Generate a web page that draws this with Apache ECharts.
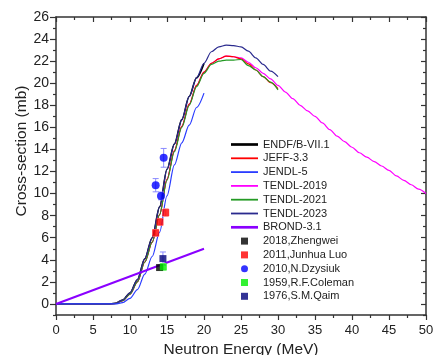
<!DOCTYPE html>
<html style="height: 100%">
<head>
<meta charset="utf-8">
</head>
<body style="height: 100%; margin: 0">
<div id="container" style="width: 434px; height: 355px"></div>
<script src="https://cdn.jsdelivr.net/npm/echarts@6/dist/echarts.min.js"></script>
<script type="text/javascript">

// energy grid (MeV) shared by the evaluated curves up to 30 MeV
var eGrid = [0, 7, 8, 9, 10, 11, 12, 13, 14, 15, 16, 17, 18, 19, 20, 21, 22, 23, 24, 25, 26, 27, 28, 29, 30];
var endfY    = [0, 0, 0.05, 0.35, 1.0, 2.2, 4.1, 6.0, 8.8, 12.2, 14.5, 16.7, 18.8, 20.5, 21.8];
var jeffY    = [0, 0, 0.04, 0.3, 0.9, 2.0, 3.8, 5.6, 8.1, 11.3, 13.9, 16.1, 18.1, 19.8, 21.0, 21.8, 22.2, 22.45, 22.4, 22.2, 21.75, 21.2, 20.6, 20.05, 19.5];
var tendl21Y = [0, 0, 0.04, 0.3, 0.9, 2.0, 3.8, 5.6, 8.1, 11.2, 13.8, 16.0, 18.0, 19.7, 20.9, 21.7, 22.0, 22.1, 22.1, 22.15, 21.6, 21.2, 20.6, 20.1, 19.4];
var tendl23Y = [0, 0, 0.05, 0.35, 1.0, 2.2, 4.1, 6.0, 8.8, 12.2, 14.5, 16.7, 18.8, 20.5, 21.8, 22.85, 23.3, 23.45, 23.4, 23.3, 22.9, 22.3, 21.7, 21.1, 20.6];
var tendl19Y = [0, 0, 0.04, 0.3, 0.9, 2.0, 3.8, 5.6, 8.1, 11.3, 13.9, 16.1, 18.1, 19.8, 21.0, 21.8, 22.2, 22.45, 22.4, 22.3, 21.9, 21.4, 20.9, 20.4, 19.8];
var eHigh    = [31, 32, 33, 34, 35, 36, 37, 38, 39, 40, 41, 42, 43, 44, 45, 46, 47, 48, 49, 50];
var tendl19HighY = [19.2, 18.6, 18.0, 17.5, 17.0, 16.4, 15.8, 15.2, 14.7, 14.2, 13.7, 13.3, 12.9, 12.5, 12.1, 11.6, 11.2, 10.8, 10.4, 10.0];
var eJendl = [0, 8, 9, 10, 11, 12, 13, 14, 15, 16, 17, 18, 19, 20];
var jendlY = [0, 0, 0.12, 0.5, 1.3, 2.7, 4.3, 6.5, 9.8, 12.6, 14.6, 16.2, 17.8, 19.1];
var eBrond = [0, 20];
var brondY = [0, 5];

// measurements: [energy, cross-section, uncertainty]
var zhengwei = [[14.0, 3.3, 0.2]];
var luo = [[13.47, 6.44, 0.3], [14.05, 7.43, 0.3], [14.82, 8.28, 0.35]];
var dzysiuk = [[13.47, 10.76, 0.6], [14.19, 9.79, 0.35], [14.55, 13.24, 0.85]];
var coleman = [[14.5, 3.36, 0.3]];
var qaim = [[14.45, 4.11, 0.6]];

var xRange = [0, 50];
var xStep = 5;
var yRange = [-1, 26];
var yMajor = [0, 2, 4, 6, 8, 10, 12, 14, 16, 18, 20, 22, 24, 26];
var yMinor = [-1, 1, 3, 5, 7, 9, 11, 13, 15, 17, 19, 21, 23, 25];

function pairs(xs, ys) {
    var out = [];
    for (var i = 0; i < ys.length; i++) out.push([xs[i], ys[i]]);
    return out;
}

var dom = document.getElementById('container');
var myChart = echarts.init(dom);

function lineSeries(name, data, color, width, z) {
    return {
        name: name, type: 'line', data: data, symbol: 'none', showSymbol: false, z: z,
        smooth: 0.3, smoothMonotone: 'x',
        lineStyle: { color: color, width: width }, itemStyle: { color: color }
    };
}

function errSeries(data, color) {
    return {
        type: 'custom', name: 'err', data: data, z: 8,
        encode: { x: 0, y: 1 },
        renderItem: function (params, api) {
            var x = api.value(0), y = api.value(1), e = api.value(2);
            var hi = api.coord([x, y + e]);
            var lo = api.coord([x, y - e]);
            var w = 3;
            var st = { stroke: color, lineWidth: 1 };
            return {
                type: 'group', children: [
                    { type: 'line', shape: { x1: hi[0], y1: hi[1], x2: lo[0], y2: lo[1] }, style: st },
                    { type: 'line', shape: { x1: hi[0] - w, y1: hi[1], x2: hi[0] + w, y2: hi[1] }, style: st },
                    { type: 'line', shape: { x1: lo[0] - w, y1: lo[1], x2: lo[0] + w, y2: lo[1] }, style: st }
                ]
            };
        }
    };
}

function dotSeries(name, data, color, symbol, size) {
    return {
        name: name, type: 'scatter', data: data, symbol: symbol, symbolSize: size, z: 10,
        itemStyle: { color: color }
    };
}

function xy(d) { return [d[0], d[1]]; }

var axisLine = { lineStyle: { color: '#333', width: 1.5 } };
var tickStyle = { color: '#333', width: 1.2 };
var font = 'Liberation Sans, Arial, sans-serif';

function yAx(position, values, inside, len, showLine, labels) {
    return {
        type: 'value', position: position, min: yRange[0], max: yRange[1],
        axisLine: { show: showLine, lineStyle: axisLine.lineStyle },
        axisTick: { show: true, inside: inside, length: len, customValues: values, lineStyle: tickStyle },
        axisLabel: labels ? { show: true, customValues: values, fontSize: 14, fontFamily: font, color: '#222', margin: 7 } : { show: false },
        splitLine: { show: false }
    };
}

var lineIcon = 'path://M0,0H30V2H0Z';
var thickIcon = 'path://M0,0H30V3H0Z';
var squareIcon = 'path://M0,0H1V1H0Z';

var option = {
    animation: false,
    grid: { left: 56, right: 8, top: 17, bottom: 40, containLabel: false, outerBoundsMode: 'none' },
    legend: {
        orient: 'vertical', left: 231, top: 139, padding: 0,
        itemWidth: 27, itemHeight: 7, itemGap: 2.8, symbolKeepAspect: true,
        textStyle: { fontSize: 11, fontFamily: font, color: '#222' },
        data: [
            { name: 'ENDF/B-VII.1', icon: thickIcon },
            { name: 'JEFF-3.3', icon: lineIcon },
            { name: 'JENDL-5', icon: lineIcon },
            { name: 'TENDL-2019', icon: lineIcon },
            { name: 'TENDL-2021', icon: lineIcon },
            { name: 'TENDL-2023', icon: lineIcon },
            { name: 'BROND-3.1', icon: thickIcon },
            { name: '2018,Zhengwei', icon: squareIcon },
            { name: '2011,Junhua Luo', icon: squareIcon },
            { name: '2010,N.Dzysiuk', icon: 'circle' },
            { name: '1959,R.F.Coleman', icon: squareIcon },
            { name: '1976,S.M.Qaim', icon: squareIcon }
        ]
    },
    graphic: [{
        type: 'text', x: 22, y: 151, rotation: Math.PI / 2,
        style: { text: 'Cross-section (mb)', font: '15.5px ' + font, fill: '#222', align: 'center', verticalAlign: 'middle' }
    }],
    xAxis: [{
        type: 'value', min: xRange[0], max: xRange[1], interval: xStep,
        name: 'Neutron Energy (MeV)', nameLocation: 'middle', nameGap: 25,
        nameTextStyle: { fontSize: 15.5, fontFamily: font, color: '#222' },
        axisLine: { onZero: false, lineStyle: axisLine.lineStyle },
        axisTick: { inside: false, length: 5, lineStyle: tickStyle },
        minorTick: { show: true, splitNumber: 2, length: 3, lineStyle: tickStyle },
        axisLabel: { fontSize: 13, fontFamily: font, color: '#222', margin: 9 },
        splitLine: { show: false }
    }, {
        type: 'value', position: 'top', min: xRange[0], max: xRange[1], interval: xStep,
        axisLine: { onZero: false, lineStyle: axisLine.lineStyle },
        axisTick: { inside: true, length: 5, lineStyle: tickStyle },
        minorTick: { show: true, splitNumber: 2, length: 3, lineStyle: tickStyle },
        axisLabel: { show: false }, splitLine: { show: false }
    }],
    yAxis: [
        yAx('left', yMajor, false, 6, true, true),
        yAx('left', yMinor, false, 3, false, false),
        yAx('right', yMajor, true, 5, true, false),
        yAx('right', yMinor, true, 3, false, false)
    ],
    series: [
        lineSeries('ENDF/B-VII.1', pairs(eGrid, endfY), '#000000', 1.6, 2),
        lineSeries('TENDL-2019', pairs(eGrid, tendl19Y).concat(pairs(eHigh, tendl19HighY)), '#ff00ff', 1.2, 3),
        lineSeries('JEFF-3.3', pairs(eGrid, jeffY), '#ff0000', 1.2, 4),
        lineSeries('TENDL-2021', pairs(eGrid, tendl21Y), '#249a24', 1.2, 5),
        lineSeries('TENDL-2023', pairs(eGrid, tendl23Y), '#2a2a8e', 1.2, 6),
        lineSeries('JENDL-5', pairs(eJendl, jendlY), '#2a3cff', 1.2, 6),
        lineSeries('BROND-3.1', pairs(eBrond, brondY), '#8a00ff', 2, 7),
        errSeries(luo, '#ff9a9a'),
        errSeries(dzysiuk, '#8a8aff'),
        errSeries(qaim, '#8a8aff'),
        errSeries(coleman, '#9aff9a'),
        dotSeries('2018,Zhengwei', zhengwei.map(xy), '#000000', 'rect', 7),
        dotSeries('2011,Junhua Luo', luo.map(xy), '#ff0000', 'rect', 7),
        dotSeries('2010,N.Dzysiuk', dzysiuk.map(xy), '#0000ff', 'circle', 8),
        dotSeries('1959,R.F.Coleman', coleman.map(xy), '#00ee00', 'rect', 7),
        dotSeries('1976,S.M.Qaim', qaim.map(xy), '#00007a', 'rect', 7)
    ]
};
myChart.setOption(option);

</script>
</body>
</html>
